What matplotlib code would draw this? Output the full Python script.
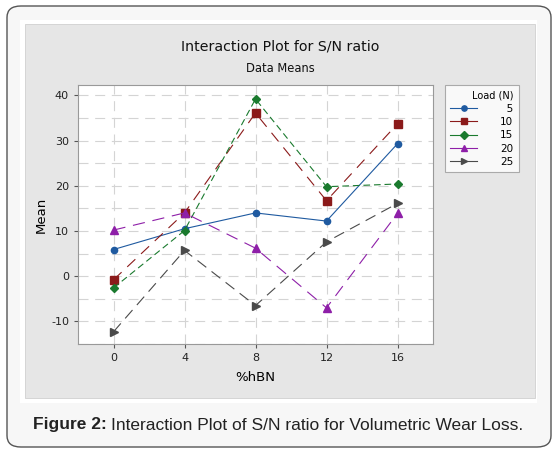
import matplotlib.pyplot as plt
from matplotlib.patches import FancyBboxPatch, Rectangle

plt.rcParams['axes.unicode_minus'] = False

hbn = [0, 4, 8, 12, 16]
loads = ['5', '10', '15', '20', '25']
mean_5 = [5.9, 10.5, 14.0, 12.2, 29.3]
mean_10 = [-0.8, 14.0, 36.1, 16.7, 33.7]
mean_15 = [-2.6, 10.1, 39.2, 19.8, 20.4]
mean_20 = [10.2, 14.0, 6.2, -7.0, 13.9]
mean_25 = [-12.3, 5.7, -6.5, 7.6, 16.1]

series = [mean_5, mean_10, mean_15, mean_20, mean_25]
colors = ['#1f5aa0', '#8b1a1a', '#1a7a2e', '#8e1fa8', '#4a4a4a']
markers = ['o', 's', 'D', '^', '>']
msizes = [4.5, 5.5, 4.5, 5.5, 5.5]
dashes = [None, (10, 7), (6, 3.5), (11, 7), (10, 6)]

fig = plt.figure(figsize=(5.57, 4.53), dpi=100)
fig.patch.set_facecolor('white')

# outer rounded frame and grey panel
fig.patches.append(FancyBboxPatch((7 / 557, 6 / 453), 544 / 557, 441 / 453,
                                  boxstyle='round,pad=0,rounding_size=0.025',
                                  transform=fig.transFigure, facecolor='#f7f7f7',
                                  edgecolor='#555555', linewidth=1.0, zorder=-3))
fig.patches.append(Rectangle((20 / 557, 50 / 453), 517 / 557, 383 / 453,
                             transform=fig.transFigure, facecolor='white',
                             edgecolor='none', zorder=-2))
fig.patches.append(Rectangle((25 / 557, 55 / 453), 510 / 557, 374 / 453,
                             transform=fig.transFigure, facecolor='#e6e6e6',
                             edgecolor='#d0d0d0', linewidth=0.6, zorder=-1))

ax = fig.add_axes([78 / 557, 1 - 344 / 453, 355 / 557, 259 / 453])
ax.set_facecolor('white')

for vals, lab, c, m, ms, d in zip(series, loads, colors, markers, msizes, dashes):
    line, = ax.plot(hbn, vals, color=c, marker=m, markersize=ms, linewidth=0.8,
                    label=lab)
    if d is not None:
        line.set_dashes(d)

ax.set_xlim(-2, 18)
ax.set_ylim(-15, 42.3)
ax.set_xticks(hbn)
ax.set_yticks([-10, 0, 10, 20, 30, 40])
ax.set_yticks(range(-15, 41, 5), minor=True)
ax.grid(True, which='major', axis='x', color='#d4d4d4', linestyle=(0, (9, 6)), linewidth=0.8)
ax.grid(True, which='both', axis='y', color='#d4d4d4', linestyle=(0, (9, 6)), linewidth=0.8)
ax.tick_params(axis='y', which='minor', length=0)
ax.tick_params(labelsize=8, length=3, color='#555555', labelcolor='#222222')
for s in ax.spines.values():
    s.set_color('#999999')
ax.set_axisbelow(True)

ax.set_xlabel('%hBN', fontsize=9.5, labelpad=6)
ax.set_ylabel('Mean', fontsize=9.5, labelpad=2)

fig.text(280 / 557, 1 - 47 / 453, 'Interaction Plot for S/N ratio', ha='center',
         va='center', fontsize=10.2, color='#111111')
fig.text(280 / 557, 1 - 69 / 453, 'Data Means', ha='center', va='center',
         fontsize=8.3, color='#111111')

handles, labels = ax.get_legend_handles_labels()
padded = ['\u2007' * (2 - len(l)) + l for l in labels]
leg = fig.legend(handles, padded, title='Load (N)', loc='upper left',
                 bbox_to_anchor=(445 / 557, 1 - 85 / 453), borderaxespad=0,
                 fontsize=7.5, title_fontsize=7, frameon=True, fancybox=False,
                 edgecolor='#999999', handlelength=2.6, handletextpad=2.2,
                 borderpad=0.5, labelspacing=0.32, alignment='right',
                 markerscale=0.85)
leg.get_frame().set_linewidth(0.8)
leg.get_frame().set_facecolor('white')
for h in leg.legend_handles:
    h.set_linestyle('-')

fig.text(33 / 557, 1 - 425 / 453, 'Figure 2:', ha='left', va='center', fontsize=12.5,
         fontweight='bold', family='Liberation Sans', color='#222222')
fig.text(111 / 557, 1 - 425 / 453, 'Interaction Plot of S/N ratio for Volumetric Wear Loss.',
         ha='left', va='center', fontsize=12.5, family='Liberation Sans', color='#222222')

fig.savefig('out.png', dpi=100)
